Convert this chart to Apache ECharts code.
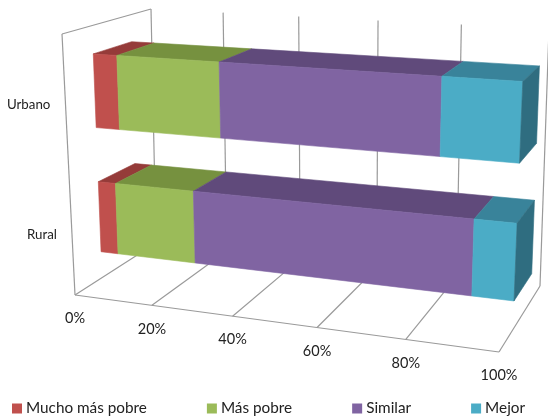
<!DOCTYPE html>
<html>
<head>
<meta charset="utf-8">
<style>
    html, body { margin: 0; padding: 0; background: #fff; }
    #main { width: 548px; height: 419px; }
</style>
</head>
<body>
<div id="main"></div>
<script src="https://cdn.jsdelivr.net/npm/echarts@6/dist/echarts.min.js"></script>
<script>
// chart values (percent), same order as categories
const categories = ['Rural', 'Urbano'];
const muchoMasPobre = [4.6, 6.2];
const masPobre = [20.3, 25.9];
const similar = [65.9, 51];
const mejor = [9.2, 16.9];
const tickValues = [0, 20, 40, 60, 80, 100];
const tickLabels = ['0%', '20%', '40%', '60%', '80%', '100%'];
const seriesNames = ['Mucho más pobre', 'Más pobre', 'Similar', 'Mejor'];
const seriesValues = [muchoMasPobre, masPobre, similar, mejor];

const frontColors = ['#C0504D', '#9BBB59', '#8064A2', '#4BACC6'];
const topColors = ['#953B39', '#76913F', '#604A7B', '#39839A'];
const sideColor = '#2F6D80';
const lineColor = '#9A9A9A';
const fontFamily = 'Lato, "Open Sans", sans-serif';

// corners of the 3d box as seen on screen: front-left, front-right, back-right, back-left
const floorQuad = [[75, 295], [499, 352], [540, 286], [156, 243]];
const ceilQuad = [[62, 34], [511, 61], [549, 29], [151, 9]];
const depthFront = 0.31;
const depthBack = 0.75;
const barRatio = 0.57;
const heightWarp = 0.05;
const floorWarp = 0.025;

// unit square -> quad homography
const makeHomography = (q) => {
    const [[x0, y0], [x1, y1], [x2, y2], [x3, y3]] = q;
    const dx1 = x1 - x2, dx2 = x3 - x2, sx = x0 - x1 + x2 - x3;
    const dy1 = y1 - y2, dy2 = y3 - y2, sy = y0 - y1 + y2 - y3;
    const det = dx1 * dy2 - dx2 * dy1;
    const g = (sx * dy2 - dx2 * sy) / det;
    const h = (dx1 * sy - sx * dy1) / det;
    return (u, v) => {
        const w = g * u + h * v + 1;
        return [
            ((x1 - x0 + g * x1) * u + (x3 - x0 + h * x3) * v + x0) / w,
            ((y1 - y0 + g * y1) * u + (y3 - y0 + h * y3) * v + y0) / w
        ];
    };
};
const floorH = makeHomography(floorQuad);
const ceilH = makeHomography(ceilQuad);

// u along value axis, d depth, h height (all 0..1)
const project = (u, d, h) => {
    // floor ticks in the reference are spaced a little more evenly than the corners imply
    const a = floorH(u + floorWarp * u * (1 - u), d);
    const b = ceilH(u, d);
    // upper part of the box is nearer the camera so it reads a bit taller
    const t = h * (1 - heightWarp) / (1 - heightWarp * h);
    return [a[0] + (b[0] - a[0]) * t, a[1] + (b[1] - a[1]) * t];
};

// the hidden grid is a 100x100 box, so its pixels read directly as fractions
const GRID_SIZE = 100;
const toUnit = (pt) => [pt[0] / GRID_SIZE, 1 - pt[1] / GRID_SIZE];

const poly = (points, color) => ({
    type: 'polygon',
    shape: { points },
    style: { fill: color, stroke: color, lineWidth: 0.6 },
    silent: true
});
const line = (a, b) => ({
    type: 'line',
    shape: { x1: a[0], y1: a[1], x2: b[0], y2: b[1] },
    style: { stroke: lineColor, lineWidth: 1.2, fill: null },
    silent: true
});
const label = (x, y, text, align, size) => ({
    type: 'text',
    x, y,
    style: { text, fill: '#222', font: size + 'px ' + fontFamily, align, verticalAlign: 'middle' },
    silent: true
});

const renderTick = (params, api) => {
    const value = api.value(0);
    const [u] = toUnit(api.coord([value, 0]));
    const children = [
        line(project(u, 1, 1), project(u, 1, 0)),
        line(project(u, 1, 0), project(u, 0, 0))
    ];
    const base = project(u, 0, 0);
    children.push(label(base[0], base[1] + 23.5, tickLabels[params.dataIndex], 'center', 14.5));
    if (value === 0) {
        children.push(line(project(0, 0, 0), project(0, 0, 1)));
        children.push(line(project(0, 0, 1), project(0, 1, 1)));
        children.push(line(project(0, 0, 0), project(1, 0, 0)));
    }
    return { type: 'group', children };
};

const renderCategory = (params, api) => {
    const [, h] = toUnit(api.coord([0, api.value(0)]));
    const p = project(0, 0, h);
    return label(p[0] - 15, p[1] + 2.5, categories[params.dataIndex], 'right', 13.3);
};

const renderSegment = (index) => (params, api) => {
    const start = api.coord([api.value(0), api.value(2)]);
    const end = api.coord([api.value(1), api.value(2)]);
    const band = api.size([0, 1])[1] * barRatio / GRID_SIZE;
    const u0 = toUnit(start)[0];
    const u1 = toUnit(end)[0];
    const mid = toUnit(start)[1];
    const h0 = mid - band / 2;
    const h1 = mid + band / 2;
    const children = [
        poly([project(u0, depthFront, h1), project(u1, depthFront, h1), project(u1, depthBack, h1), project(u0, depthBack, h1)], topColors[index]),
        poly([project(u0, depthFront, h0), project(u1, depthFront, h0), project(u1, depthFront, h1), project(u0, depthFront, h1)], frontColors[index])
    ];
    if (index === seriesNames.length - 1) {
        children.push(poly([project(u1, depthFront, h0), project(u1, depthBack, h0), project(u1, depthBack, h1), project(u1, depthFront, h1)], sideColor));
    }
    return { type: 'group', children };
};

// running totals per category so each segment knows where it starts
const segmentData = (index) => categories.map((c, i) => {
    let start = 0;
    for (let s = 0; s < index; s++) start += seriesValues[s][i];
    return [start, start + seriesValues[index][i], i];
});

const option = {
    animation: false,
    color: frontColors,
    grid: { left: 0, top: 0, width: GRID_SIZE, height: GRID_SIZE, show: false },
    xAxis: { type: 'value', min: 0, max: 100, show: false },
    yAxis: { type: 'category', data: categories, show: false },
    legend: {
        left: 12,
        top: 401,
        padding: 0,
        itemGap: 60,
        itemWidth: 10,
        itemHeight: 10,
        icon: 'rect',
        data: seriesNames,
        textStyle: { fontFamily: 'Lato, "Open Sans", sans-serif', fontSize: 15.3, color: '#222', padding: [0, 0, 0, -1] }
    },
    series: [
        {
            type: 'custom',
            name: 'ticks',
            renderItem: renderTick,
            data: tickValues.map((v) => [v]),
            encode: { x: 0 }
        },
        {
            type: 'custom',
            name: 'categories',
            renderItem: renderCategory,
            data: categories.map((c, i) => [i]),
            encode: { y: 0 }
        }
    ].concat(seriesNames.map((name, index) => ({
        type: 'custom',
        name,
        renderItem: renderSegment(index),
        itemStyle: { color: frontColors[index] },
        data: segmentData(index),
        encode: { x: [0, 1], y: 2 }
    })))
};

const myChart = echarts.init(document.getElementById('main'));
myChart.setOption(option);
</script>
</body>
</html>
